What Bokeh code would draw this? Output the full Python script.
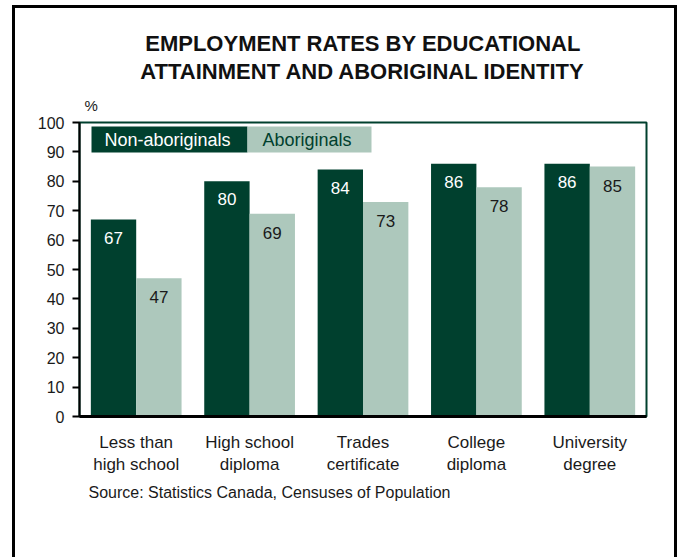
from bokeh.plotting import figure
from bokeh.models import (ColumnDataSource, FactorRange, Range1d, FixedTicker,
                          Label, BoxAnnotation, Title, InlineStyleSheet)
from bokeh.core.properties import value
from bokeh.transform import dodge
from bokeh.embed import file_html
from bokeh.resources import INLINE

# Employment rates (%) by educational attainment
categories = ["Less than\nhigh school", "High school\ndiploma", "Trades\ncertificate",
              "College\ndiploma", "University\ndegree"]
non_aboriginal = [67, 80, 84, 86, 86]
aboriginal = [47, 69, 73, 78, 85]
y_ticks = [0, 10, 20, 30, 40, 50, 60, 70, 80, 90, 100]

DARK = "#00402E"
LIGHT = "#ADC8BC"
FONT = "Liberation Sans"

src = ColumnDataSource(dict(
    cat=categories,
    non=non_aboriginal,
    abo=aboriginal,
    non_lbl=[str(v) for v in non_aboriginal],
    abo_lbl=[str(v) for v in aboriginal],
))

p = figure(width=681, height=557, x_range=FactorRange(*categories, range_padding=0),
           y_range=Range1d(0, 100), output_backend="svg", toolbar_location=None,
           min_border_left=79, min_border_right=35, min_border_top=122,
           min_border_bottom=141)
p.background_fill_color = "white"
p.border_fill_color = "white"
p.grid.visible = False
p.outline_line_color = DARK
p.outline_line_width = 2

p.vbar(x=dodge("cat", -0.2, range=p.x_range), top="non", width=0.4, source=src,
       fill_color=DARK, line_color=None)
p.vbar(x=dodge("cat", 0.2, range=p.x_range), top="abo", width=0.4, source=src,
       fill_color=LIGHT, line_color=None)

p.text(x=dodge("cat", -0.2, range=p.x_range), y="non", text="non_lbl", source=src,
       text_align="center", text_baseline="top", y_offset=12, text_color="white",
       text_font=value(FONT), text_font_size="17px")
p.text(x=dodge("cat", 0.2, range=p.x_range), y="abo", text="abo_lbl", source=src,
       text_align="center", text_baseline="top", y_offset=13, text_color="#1a1a1a",
       text_font=value(FONT), text_font_size="17px")

# axes
ya = p.yaxis[0]
ya.ticker = FixedTicker(ticks=y_ticks)
ya.axis_line_color = "black"
ya.axis_line_width = 2
ya.major_tick_line_color = "black"
ya.major_tick_line_width = 2
ya.major_tick_out = 7
ya.major_tick_in = 0
ya.minor_tick_line_color = None
ya.major_label_text_font = FONT
ya.major_label_text_font_size = "16px"
ya.major_label_text_color = "#1a1a1a"
ya.major_label_standoff = 8

xa = p.xaxis[0]
xa.axis_line_color = "black"
xa.axis_line_width = 3
xa.major_tick_line_color = None
xa.minor_tick_line_color = None
xa.major_tick_out = 0
xa.major_label_text_font = FONT
xa.major_label_text_font_size = "17px"
xa.major_label_text_color = "#1a1a1a"
xa.major_label_standoff = 16

# legend swatches with their labels inside
for left, right, color in [(91, 247, DARK), (247, 371, LIGHT)]:
    p.add_layout(BoxAnnotation(left=left, right=right, top=126, bottom=152,
                               left_units="canvas", right_units="canvas",
                               top_units="canvas", bottom_units="canvas",
                               fill_color=color, fill_alpha=1, line_color=None))
p.add_layout(Label(x=104, y=139, x_units="canvas", y_units="canvas", text="Non-aboriginals",
                   text_font=FONT, text_font_size="18px", text_color="white",
                   text_baseline="middle"))
p.add_layout(Label(x=262, y=139, x_units="canvas", y_units="canvas", text="Aboriginals",
                   text_font=FONT, text_font_size="18px", text_color=DARK,
                   text_baseline="middle"))

# unit mark and two-line heading, stacked outward from the plot area
p.add_layout(Title(text="%", align="left", offset=5, standoff=18, text_font=FONT,
                   text_font_size="15px", text_font_style="normal",
                   text_color="#1a1a1a"), "above")
p.add_layout(Title(text="ATTAINMENT AND ABORIGINAL IDENTITY", align="center", offset=-20,
                   standoff=3, text_font=FONT, text_font_size="22px",
                   text_font_style="bold", text_color="#111111"), "above")
p.add_layout(Title(text="EMPLOYMENT RATES BY EDUCATIONAL", align="center", offset=-20,
                   standoff=0, text_font=FONT, text_font_size="22px",
                   text_font_style="bold", text_color="#111111"), "above")

# source note under the category labels
p.add_layout(Title(text="Source: Statistics Canada, Censuses of Population", align="left",
                   offset=9, standoff=9, text_font=FONT, text_font_size="16px",
                   text_font_style="normal", text_color="#1a1a1a"), "below")

# black frame around the whole chart (open at the bottom edge of the page)
p.stylesheets = [InlineStyleSheet(css="""
:host { position: relative; overflow: hidden; }
:host::after {
  content: ""; position: absolute; left: 12px; top: 5px;
  width: 665px; height: 700px; box-sizing: border-box;
  border: 3px solid black; pointer-events: none;
}
""")]

open("out.html", "w").write(file_html(p, INLINE))
